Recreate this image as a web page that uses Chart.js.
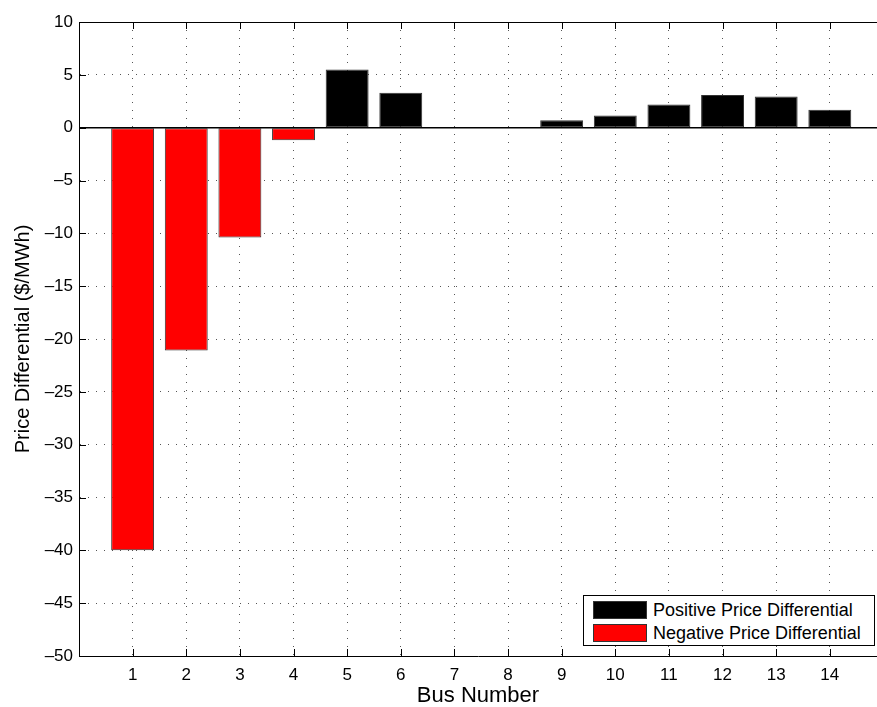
<!DOCTYPE html>
<html lang="en">
<head>
    <meta charset="UTF-8">
    <title>Price Differential by Bus</title>
    <style>
        *{
            margin:0;
            padding:0;
        }
        body{
            width: 877px;
            height: 707px;
            overflow: hidden;
            background: #fff;
            font-family: "Liberation Sans", Arial, Helvetica, sans-serif;
        }
        .wrap{
            position: relative;
            width: 877px;
            height: 707px;
        }
        .legend{
            position: absolute;
            left: 583px;
            top: 595px;
            width: 290px;
            height: 49px;
            border: 1px solid #000;
            background: #fff;
            box-sizing: content-box;
        }
        .legend .row{
            position: absolute;
            left: 9px;
            height: 18px;
            display: flex;
            align-items: center;
            font-size: 18px;
            color: #000;
            white-space: nowrap;
        }
        .legend .swatch{
            width: 52px;
            height: 16px;
            border: 1px solid #333;
            margin-right: 6px;
        }
    </style>
</head>
<body>
    <div class="wrap">
        <canvas id="priceChart"></canvas>
        <div class="legend" id="legend"></div>
    </div>
    <script src="https://cdn.jsdelivr.net/npm/chart.js@4.4.0/dist/chart.umd.min.js"></script>
    <script>
        const buses = [1, 2, 3, 4, 5, 6, 7, 8, 9, 10, 11, 12, 13, 14];
        const positiveDiff = [null, null, null, null, 5.5, 3.3, 0, 0.05, 0.7, 1.15, 2.2, 3.1, 2.95, 1.7];
        const negativeDiff = [-40, -21.1, -10.4, -1.2, null, null, null, null, null, null, null, null, null, null];
        const yTicks = { min: -50, max: 10, step: 5 };

        const font = '"Liberation Sans", Arial, Helvetica, sans-serif';

        function points(values){
            return buses.map((b, i) => ({ x: b, y: values[i] }));
        }

        // box top edge, inward tick marks and the zero baseline
        const axesBox = {
            id: 'axesBox',
            afterDatasetsDraw(chart){
                const { ctx, chartArea: a, scales: { x, y } } = chart;
                const tick = 7;
                ctx.save();
                ctx.strokeStyle = '#000';
                ctx.lineWidth = 1;
                ctx.beginPath();
                const top = Math.round(a.top) + 0.5;
                ctx.moveTo(a.left, top);
                ctx.lineTo(a.right, top);
                x.ticks.forEach(t => {
                    const px = Math.round(x.getPixelForValue(t.value)) + 0.5;
                    ctx.moveTo(px, a.bottom);
                    ctx.lineTo(px, a.bottom - tick);
                    ctx.moveTo(px, a.top);
                    ctx.lineTo(px, a.top + tick);
                });
                y.ticks.forEach(t => {
                    const py = Math.round(y.getPixelForValue(t.value)) + 0.5;
                    ctx.moveTo(a.left, py);
                    ctx.lineTo(a.left + tick, py);
                });
                ctx.stroke();
                ctx.lineWidth = 1.5;
                ctx.beginPath();
                const y0 = y.getPixelForValue(0);
                ctx.moveTo(a.left, y0);
                ctx.lineTo(a.right, y0);
                ctx.stroke();
                ctx.restore();
            }
        };

        const ctx = document.getElementById('priceChart').getContext('2d');
        const chart = new Chart(ctx, {
            type: 'bar',
            data: {
                datasets: [{
                    label: 'Positive Price Differential',
                    data: points(positiveDiff),
                    backgroundColor: '#000',
                    borderColor: '#333',
                    borderWidth: 1,
                    borderSkipped: false,
                },{
                    label: 'Negative Price Differential',
                    data: points(negativeDiff),
                    backgroundColor: '#ff0000',
                    borderColor: '#333',
                    borderWidth: 1,
                    borderSkipped: false,
                }]
            },
            options: {
                responsive: true,
                maintainAspectRatio: false,
                animation: false,
                devicePixelRatio: 1,
                layout: { padding: { top: 22, left: 0, right: 0, bottom: 0 } },
                datasets: {
                    bar: {
                        grouped: false,
                        categoryPercentage: 1,
                        barPercentage: 0.8,
                    }
                },
                plugins: {
                    legend: { display: false },
                    tooltip: { enabled: false },
                },
                scales: {
                    x: {
                        type: 'linear',
                        offset: false,
                        min: 0,
                        max: 14.88,
                        afterBuildTicks: s => { s.ticks = buses.map(v => ({ value: v })); },
                        afterFit: s => { s.height = 51; },
                        grid: { color: '#555', lineWidth: 1, drawTicks: false, offset: false },
                        border: { display: true, color: '#000', width: 1, dash: [1, 7] },
                        ticks: {
                            color: '#000',
                            padding: 9,
                            maxRotation: 0,
                            autoSkip: false,
                            font: { family: font, size: 17 },
                        },
                        title: {
                            display: true,
                            text: 'Bus Number',
                            color: '#000',
                            font: { family: font, size: 22, lineHeight: 1 },
                            padding: { top: 0, bottom: 0 },
                        }
                    },
                    y: {
                        min: yTicks.min,
                        max: yTicks.max,
                        afterFit: s => { s.width = 79; },
                        grid: { color: '#555', lineWidth: 1, drawTicks: false },
                        border: { display: true, color: '#000', width: 1, dash: [1, 7] },
                        ticks: {
                            stepSize: yTicks.step,
                            color: '#000',
                            padding: 6,
                            font: { family: font, size: 17 },
                            callback: v => String(v).replace('-', '\u2013'),
                        },
                        title: {
                            display: true,
                            text: 'Price Differential ($/MWh)',
                            color: '#000',
                            font: { family: font, size: 20, lineHeight: 1 },
                            padding: { top: 13, bottom: 0 },
                        }
                    }
                }
            },
            plugins: [axesBox]
        });

        // legend box in the lower right corner
        const legend = document.getElementById('legend');
        chart.data.datasets.forEach((ds, i) => {
            const row = document.createElement('div');
            row.className = 'row';
            row.style.top = (5 + i * 23) + 'px';
            const sw = document.createElement('span');
            sw.className = 'swatch';
            sw.style.background = ds.backgroundColor;
            row.appendChild(sw);
            row.appendChild(document.createTextNode(ds.label));
            legend.appendChild(row);
        });
    </script>
</body>
</html>
